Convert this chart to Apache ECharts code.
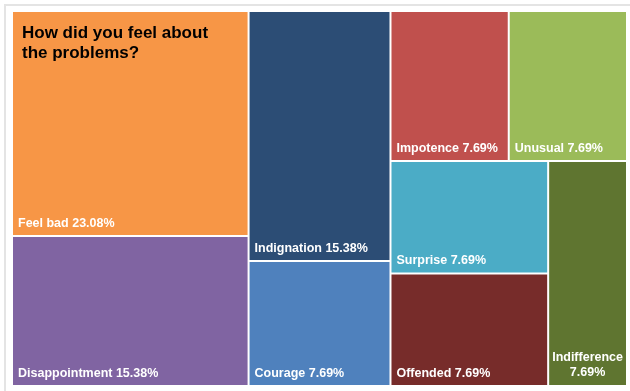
<!DOCTYPE html>
<html>
<head>
<meta charset="utf-8">
<script src="https://cdn.jsdelivr.net/npm/echarts@6/dist/echarts.min.js"></script>
<style>
  html, body { margin: 0; padding: 0; background: #fff; }
  #chart { width: 630px; height: 391px; }
</style>
</head>
<body>
<div id="chart"></div>
<script>
const categories = ['Feel bad', 'Disappointment', 'Indignation', 'Courage', 'Impotence', 'Unusual', 'Surprise', 'Offended', 'Indifference']
const percents = [23.08, 15.38, 15.38, 7.69, 7.69, 7.69, 7.69, 7.69, 7.69]
const colors = ['#F79646', '#8064A2', '#2C4D75', '#4F81BD', '#C0504D', '#9BBB59', '#4BACC6', '#772C2A', '#5F7530']

const chart = echarts.init(document.getElementById('chart'))

const data = categories.map((name, i) => {
  const item = { name, value: percents[i], itemStyle: { color: colors[i] } }
  // narrow cell: name and value on two centred lines
  if (name === 'Indifference') {
    item.label = { position: 'insideBottom', align: 'center', formatter: '{b}\n{c}%', overflow: 'none', lineHeight: 15 }
  }
  return item
})

chart.setOption({
  animation: false,
  title: {
    text: 'How did you feel about\nthe problems?',
    left: 22,
    top: 23,
    padding: 0,
    textStyle: {
      color: '#000',
      fontFamily: 'Liberation Sans',
      fontWeight: 'bold',
      fontSize: 17,
      lineHeight: 20,
    },
  },
  graphic: [
    {
      type: 'rect',
      silent: true,
      z: -1,
      shape: { x: 5, y: 5, width: 700, height: 500 },
      style: { fill: 'none', stroke: '#e4e4e4', lineWidth: 2 },
    },
  ],
  series: [
    {
      type: 'treemap',
      left: 13,
      top: 12,
      right: 4,
      bottom: 6,
      sort: false,
      squareRatio: 1, // plain squarify, no golden-ratio bias
      roam: false,
      nodeClick: false,
      breadcrumb: { show: false },
      label: {
        show: true,
        position: 'insideBottomLeft',
        formatter: '{b} {c}%',
        color: '#fff',
        fontFamily: 'Liberation Sans',
        fontWeight: 'bold',
        fontSize: 12.5,
        padding: 5,
      },
      levels: [
        { itemStyle: { borderWidth: 0, gapWidth: 2, borderColor: '#fff' } },
      ],
      data,
    },
  ],
})
</script>
</body>
</html>
